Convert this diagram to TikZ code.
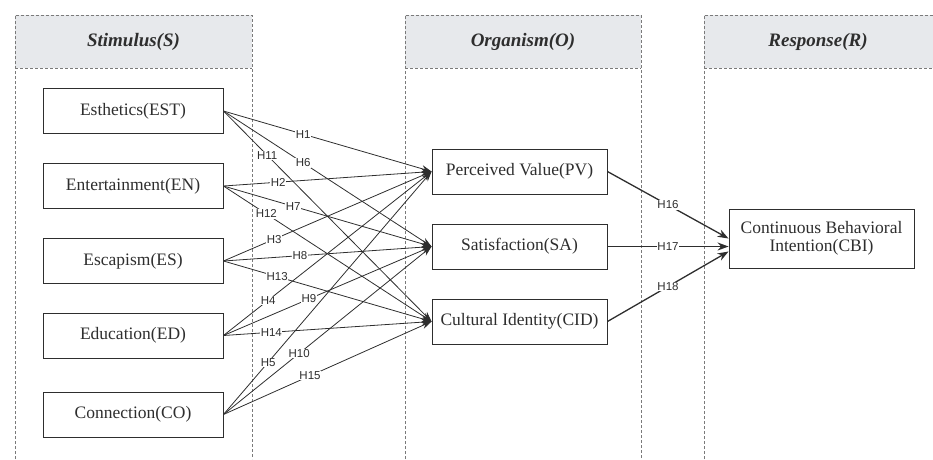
\documentclass[tikz,border=0pt]{standalone}
\usepackage{fontspec}
\setmainfont{Liberation Serif}
\newfontfamily\lblfont{Liberation Sans}
\usetikzlibrary{arrows.meta}
\definecolor{hdrfill}{HTML}{E7E9EC}
\definecolor{dashgray}{HTML}{7A7A7A}
\definecolor{ink}{HTML}{2E2E2E}
\tikzset{
  colline/.style={draw=dashgray, line width=0.9pt, dash pattern=on 3pt off 2pt},
  hdrtext/.style={font=\fontsize{19}{22}\selectfont\bfseries\itshape, text=ink},
  varbox/.style={draw=ink, line width=0.9pt, fill=white, minimum width=180pt, minimum height=45pt, inner sep=0pt, font=\fontsize{17.5}{20}\selectfont, text=ink, align=center},
  midbox/.style={varbox, minimum width=175pt},
  link/.style={draw=ink, line width=0.8pt, -{Stealth[length=10pt,width=7pt]}},
  outlink/.style={draw=ink, line width=1.3pt, -{Stealth[length=11pt,width=8pt]}},
  hl/.style={font=\lblfont\fontsize{11.5}{12}\selectfont, text=ink, fill=white, inner sep=0.6pt}
}
\begin{document}
\begin{tikzpicture}[x=1pt,y=-1pt]
\useasboundingbox (0,0) rectangle (933,459);
\clip (0,0) rectangle (933,459);
% column headers
\fill[hdrfill] (15,15) rectangle (252,68);
\fill[hdrfill] (405,15) rectangle (641,68);
\fill[hdrfill] (704,15) rectangle (933,68);
\draw[colline] (15,459) -- (15,15) -- (252,15) -- (252,459);
\draw[colline] (15,68) -- (252,68);
\draw[colline] (405,459) -- (405,15) -- (641,15) -- (641,459);
\draw[colline] (405,68) -- (641,68);
\draw[colline] (704,459) -- (704,15) -- (933,15);
\draw[colline] (704,68) -- (933,68);
\node[hdrtext] (hS) at (133.5,42) {Stimulus(S)};
\node[hdrtext] (hO) at (523,42) {Organism(O)};
\node[hdrtext] (hR) at (818,42) {Response(R)};
% left boxes
\node[varbox] (est) at (133,111) {Esthetics(EST)};
\node[varbox] (en) at (133,186) {Entertainment(EN)};
\node[varbox] (es) at (133,261) {Escapism(ES)};
\node[varbox] (ed) at (133,335.5) {Education(ED)};
\node[varbox] (co) at (133,414.5) {Connection(CO)};
% middle boxes
\node[midbox] (pv) at (519.5,171.5) {Perceived Value(PV)};
\node[midbox] (sa) at (519.5,246.5) {Satisfaction(SA)};
\node[midbox] (cid) at (519.5,321.5) {Cultural Identity(CID)};
% right box
\node[varbox, minimum width=185pt, minimum height=59pt] (cbi) at (821.5,238.5) {Continuous Behavioral\\[-2pt]Intention(CBI)};
% links to PV
\draw[link] (est.east) -- node[hl, pos=0.383] {H1} (pv.west);
\draw[link] (en.east) -- node[hl, pos=0.263] {H2} (pv.west);
\draw[link] (es.east) -- node[hl, pos=0.244] {H3} (pv.west);
\draw[link] (ed.east) -- node[hl, pos=0.215] {H4} (pv.west);
\draw[link] (co.east) -- node[hl, pos=0.215] {H5} (pv.west);
% links to SA
\draw[link] (est.east) -- node[hl, pos=0.383] {H6} (sa.west);
\draw[link] (en.east) -- node[hl, pos=0.335] {H7} (sa.west);
\draw[link] (es.east) -- node[hl, pos=0.368] {H8} (sa.west);
\draw[link] (ed.east) -- node[hl, pos=0.411] {H9} (sa.west);
\draw[link] (co.east) -- node[hl, pos=0.364] {H10} (sa.west);
% links to CID
\draw[link] (est.east) -- node[hl, pos=0.21] {H11} (cid.west);
\draw[link] (en.east) -- node[hl, pos=0.206] {H12} (cid.west);
\draw[link] (es.east) -- node[hl, pos=0.258] {H13} (cid.west);
\draw[link] (ed.east) -- node[hl, pos=0.23] {H14} (cid.west);
\draw[link] (co.east) -- node[hl, pos=0.416] {H15} (cid.west);
% links to CBI
\coordinate (cbi16) at ([yshift=0pt]cbi.west);
\coordinate (cbi17) at ([yshift=-8pt]cbi.west);
\coordinate (cbi18) at ([yshift=-13pt]cbi.west);
\draw[outlink] (pv.east) -- node[hl, pos=0.5] {H16} (cbi16);
\draw[outlink] (sa.east) -- node[hl, pos=0.5] {H17} (cbi17);
\draw[outlink] (cid.east) -- node[hl, pos=0.5] {H18} (cbi18);
\end{tikzpicture}
\end{document}
